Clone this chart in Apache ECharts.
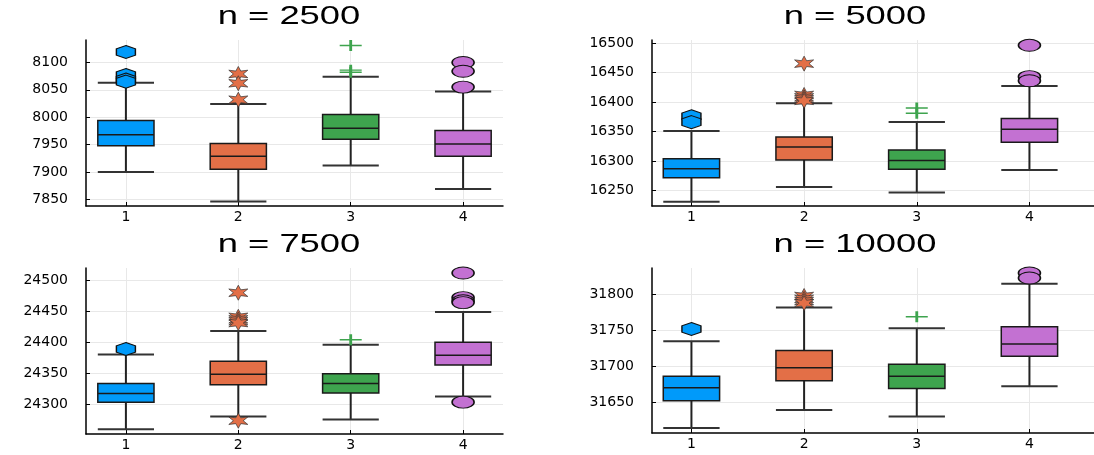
<!DOCTYPE html>
<html><head><meta charset="utf-8">
<script src="https://cdn.jsdelivr.net/npm/echarts@6/dist/echarts.min.js"></script>
<style>html,body{margin:0;padding:0;background:#fff}#c{width:1094px;height:455px}</style>
</head><body><div id="c"></div>
<script>
// ---------- data ----------
const categories = [1, 2, 3, 4];
const titles = ['n = 2500', 'n = 5000', 'n = 7500', 'n = 10000'];
const colors = ['#009AFA', '#E36F47', '#3EA44E', '#C371D2'];

// each box: [lower whisker, Q1, median, Q3, upper whisker]
const box2500 = [[7900, 7948, 7968, 7994, 8063], [7846, 7905, 7929, 7952, 8024], [7912, 7960, 7980, 8005, 8074], [7869, 7929, 7951, 7976, 8047]];
const out2500 = [[8119, 8077, 8069, 8065], [8079, 8062, 8032], [8131, 8086, 8082], [8100, 8084, 8055]];

const box5000 = [[16231, 16272, 16287, 16304, 16351], [16256, 16302, 16324, 16341, 16398], [16247, 16286, 16301, 16319, 16366], [16285, 16332, 16354, 16372, 16427]];
const out5000 = [[16376, 16366], [16465, 16412, 16408, 16405, 16402], [16390, 16381], [16496, 16443, 16436]];

const box7500 = [[24259, 24303, 24317, 24333, 24380], [24280, 24331, 24348, 24369, 24418], [24275, 24318, 24333, 24349, 24396], [24312, 24363, 24379, 24400, 24449]];
const out7500 = [[24389], [24480, 24441, 24437, 24434, 24431, 24273], [24404], [24512, 24472, 24467, 24464, 24303]];

const box10000 = [[31614, 31652, 31670, 31686, 31735], [31639, 31680, 31698, 31722, 31782], [31630, 31669, 31686, 31703, 31753], [31672, 31714, 31731, 31755, 31815]];
const out10000 = [[31752], [31798, 31794, 31791, 31788], [31769], [31830, 31823]];

const yTicks2500 = [7850, 7900, 7950, 8000, 8050, 8100];
const yTicks5000 = [16250, 16300, 16350, 16400, 16450, 16500];
const yTicks7500 = [24300, 24350, 24400, 24450, 24500];
const yTicks10000 = [31650, 31700, 31750, 31800];

const yLim2500 = [7838, 8141];
const yLim5000 = [16224, 16505];
const yLim7500 = [24251.5, 24520];
const yLim10000 = [31607, 31837];
const xLimLeft = [0.645, 4.355];
const xLimRight = [0.65, 4.573];

// ---------- layout / style ----------
const panels = [
  {box: box2500, out: out2500, ticks: yTicks2500, lim: yLim2500, xlim: xLimLeft},
  {box: box5000, out: out5000, ticks: yTicks5000, lim: yLim5000, xlim: xLimRight},
  {box: box7500, out: out7500, ticks: yTicks7500, lim: yLim7500, xlim: xLimLeft},
  {box: box10000, out: out10000, ticks: yTicks10000, lim: yLim10000, xlim: xLimRight}
];
const gridRects = [
  {left: 86, top: 40, width: 417, height: 166},
  {left: 652, top: 40, width: 442, height: 166},
  {left: 86, top: 268, width: 417, height: 166},
  {left: 652, top: 268, width: 442, height: 165}
];
const titlePos = [[289, 17], [855, 17], [289, 245], [855, 245]];

function star6() {
  let d = '';
  for (let k = 0; k < 12; k++) {
    const a = (-90 + k * 30) * Math.PI / 180;
    const r = k % 2 ? 0.45 : 1;
    d += (k ? 'L' : 'M') + (r * Math.cos(a) * 10).toFixed(3) + ',' + (r * Math.sin(a) * 10).toFixed(3);
  }
  return 'path://' + d + 'Z';
}
const symbols = [
  'path://M0,-10L8.66,-5L8.66,5L0,10L-8.66,5L-8.66,-5Z',
  star6(),
  'path://M-10,0L10,0M0,-10L0,10',
  'path://M-10,0A10,10 0 1,0 10,0A10,10 0 1,0 -10,0Z'
];
const symSizes = [[19, 13], [19, 15], [22, 11], [22, 12]];
const symStyles = [
  {color: colors[0], borderColor: '#111', borderWidth: 1.2, opacity: 1},
  {color: colors[1], borderColor: '#333', borderWidth: 0.7, opacity: 1},
  {color: colors[2], borderColor: colors[2], borderWidth: 2, opacity: 1},
  {color: colors[3], borderColor: '#111', borderWidth: 1.2, opacity: 1}
];

function renderBox(params, api) {
  const x = api.value(0);
  const lo = api.value(1), q1 = api.value(2), med = api.value(3), q3 = api.value(4), hi = api.value(5);
  const c = colors[params.dataIndex];
  const hw = 0.25;
  const pLo = api.coord([x, lo]), pQ1 = api.coord([x, q1]), pMed = api.coord([x, med]), pQ3 = api.coord([x, q3]), pHi = api.coord([x, hi]);
  const xl = api.coord([x - hw, med])[0], xr = api.coord([x + hw, med])[0];
  const line = (x1, y1, x2, y2, w, col) => ({type: 'line', shape: {x1, y1, x2, y2}, style: {stroke: col, lineWidth: w}});
  return {type: 'group', children: [
    line(pMed[0], pHi[1], pMed[0], pQ3[1], 2, '#222'),
    line(pMed[0], pQ1[1], pMed[0], pLo[1], 2, '#222'),
    line(xl, pHi[1], xr, pHi[1], 2, '#333'),
    line(xl, pLo[1], xr, pLo[1], 2, '#333'),
    {type: 'rect', shape: {x: xl, y: pQ3[1], width: xr - xl, height: pQ1[1] - pQ3[1]}, style: {fill: c, stroke: '#1a1a1a', lineWidth: 1.5}},
    line(xl, pMed[1], xr, pMed[1], 1.5, '#1a1a1a')
  ]};
}

const grid = [], xAxis = [], yAxis = [], series = [], graphic = [];
panels.forEach((p, i) => {
  grid.push(gridRects[i]);
  xAxis.push({
    type: 'value', gridIndex: i, min: p.xlim[0], max: p.xlim[1],
    axisLine: {show: true, lineStyle: {color: '#000', width: 1.5}},
    axisTick: {show: true, inside: true, length: 4, customValues: categories, lineStyle: {color: '#000'}},
    axisLabel: {customValues: categories, fontSize: 14, fontFamily: 'DejaVu Sans', color: '#000', margin: 4, formatter: v => String(v)},
    splitLine: {show: true, lineStyle: {color: '#e8e8e8', width: 1}}
  });
  yAxis.push({
    type: 'value', gridIndex: i, min: p.lim[0], max: p.lim[1],
    axisLine: {show: true, lineStyle: {color: '#000', width: 1.5}},
    axisTick: {show: true, inside: true, length: 4, customValues: p.ticks, lineStyle: {color: '#000'}},
    axisLabel: {customValues: p.ticks, fontSize: 14, fontFamily: 'DejaVu Sans', color: '#000', margin: 18, formatter: v => String(v)},
    splitLine: {show: true, lineStyle: {color: '#e8e8e8', width: 1}}
  });
  series.push({
    type: 'custom', xAxisIndex: i, yAxisIndex: i,
    renderItem: renderBox,
    encode: {x: 0, y: [1, 2, 3, 4, 5]},
    data: p.box.map((b, g) => [categories[g]].concat(b)),
    z: 2
  });
  const outData = [];
  p.out.forEach((vals, g) => vals.forEach(v => outData.push({
    value: [categories[g], v], symbol: symbols[g], symbolSize: symSizes[g], itemStyle: symStyles[g]
  })));
  series.push({type: 'scatter', xAxisIndex: i, yAxisIndex: i, data: outData, z: 3, silent: true, itemStyle: {opacity: 1}});
  graphic.push({
    type: 'text', x: titlePos[i][0], y: titlePos[i][1], scaleX: 1.4,
    style: {text: titles[i], font: '26px "Liberation Sans"', fill: '#000', textAlign: 'center', textVerticalAlign: 'middle'}
  });
});

const chart = echarts.init(document.getElementById('c'));
chart.setOption({animation: false, backgroundColor: '#fff', grid, xAxis, yAxis, series, graphic});
</script>
</body></html>
